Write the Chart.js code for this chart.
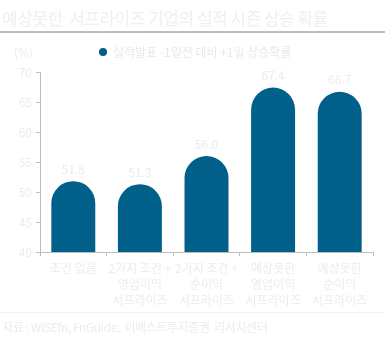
<!DOCTYPE html>
<html>
<head>
<meta charset="utf-8">
<script src="https://cdn.jsdelivr.net/npm/chart.js@4"></script>
<style>
    body { margin: 0; background: #fff; font-family: "Noto Sans CJK KR", sans-serif; }
    #wrap { position: relative; width: 385px; height: 350px; overflow: hidden; }
    #grafico { position: absolute; left: 0; top: 0; }
    .txt { position: absolute; white-space: pre; color: #ededed; }
    #titulo { left: 2px; top: 5px; font-size: 17px; color: #efefef; letter-spacing: -0.5px; }
    #linha { position: absolute; left: 0; top: 31px; width: 385px; height: 2px; background: #bdbdbd; }
    #unidade { left: 14px; top: 43px; font-size: 12px; }
    #legenda { left: 99px; top: 43px; font-size: 12px; color: #e8e8e8; }
    #legenda span.dot { display: inline-block; width: 8px; height: 8px; border-radius: 50%; background: #006089; margin-right: 6px; vertical-align: 1px; }
    #sep { position: absolute; left: 0; top: 312px; width: 385px; height: 1px; background: #f2f2f2; }
    #fonte { left: 2px; top: 318px; font-size: 12px; color: #ececec; letter-spacing: -0.4px; }
</style>
</head>
<body>
<div id="wrap">
    <canvas id="grafico" width="385" height="350"></canvas>
    <div class="txt" id="titulo">예상못한  서프라이즈 기업의 실적 시즌 상승 확률</div>
    <div id="linha"></div>
    <div class="txt" id="unidade">(%)</div>
    <div class="txt" id="legenda"><span class="dot"></span>실적발표 -1일전 대비 +1일 상승확률</div>
    <div id="sep"></div>
    <div class="txt" id="fonte">자료 : WISEfn, FnGuide,  이베스트투자증권  리서치센터</div>
</div>
<script>
const categorias = [
    ['조건 없음'],
    ['2가지 조건 +', '영업이익', '서프라이즈'],
    ['2가지 조건 +', '순이익', '서프라이즈'],
    ['예상못한', '영업이익', '서프라이즈'],
    ['예상못한', '순이익', '서프라이즈']
];
const valores = [51.8, 51.3, 56.0, 67.4, 66.7];
const eixoY = { min: 40, max: 70, passo: 5 };

const COR_BARRA = '#006089';
const COR_TEXTO = '#ececec';
const COR_EIXO = '#bdbdbd';
const FONTE = '"Noto Sans CJK KR", sans-serif';

const rotulosValor = {
    id: 'rotulosValor',
    afterDatasetsDraw(chart) {
        const ctx = chart.ctx;
        const meta = chart.getDatasetMeta(0);
        ctx.save();
        ctx.font = '12px ' + FONTE;
        ctx.fillStyle = COR_TEXTO;
        ctx.textAlign = 'center';
        ctx.textBaseline = 'bottom';
        meta.data.forEach((barra, i) => {
            ctx.fillText(valores[i].toFixed(1), barra.x, barra.y - 6);
        });
        ctx.restore();
    }
};

new Chart(document.getElementById('grafico').getContext('2d'), {
    type: 'bar',
    data: {
        labels: categorias,
        datasets: [{
            label: '실적발표 -1일전 대비 +1일 상승확률',
            data: valores,
            backgroundColor: COR_BARRA,
            borderRadius: 100,
            borderSkipped: 'start',
            categoryPercentage: 0.66,
            barPercentage: 1
        }]
    },
    options: {
        responsive: false,
        animation: false,
        layout: { padding: { top: 72, left: 0, right: 12, bottom: 0 } },
        plugins: { legend: { display: false }, tooltip: { enabled: false } },
        scales: {
            y: {
                min: eixoY.min,
                max: eixoY.max,
                ticks: { stepSize: eixoY.passo, color: COR_TEXTO, font: { family: FONTE, size: 12 }, padding: 4 },
                grid: { drawOnChartArea: false, drawTicks: true, tickLength: 4, color: COR_EIXO },
                border: { color: COR_EIXO },
                afterFit(s) { s.width = 40; }
            },
            x: {
                ticks: { color: COR_TEXTO, font: { family: FONTE, size: 12, lineHeight: 1.35 }, padding: 4, maxRotation: 0, autoSkip: false },
                grid: { drawOnChartArea: false, drawTicks: true, tickLength: 4, color: COR_EIXO, offset: true },
                border: { color: COR_EIXO },
                afterFit(s) { s.height = 98; }
            }
        }
    },
    plugins: [rotulosValor]
});
</script>
</body>
</html>
